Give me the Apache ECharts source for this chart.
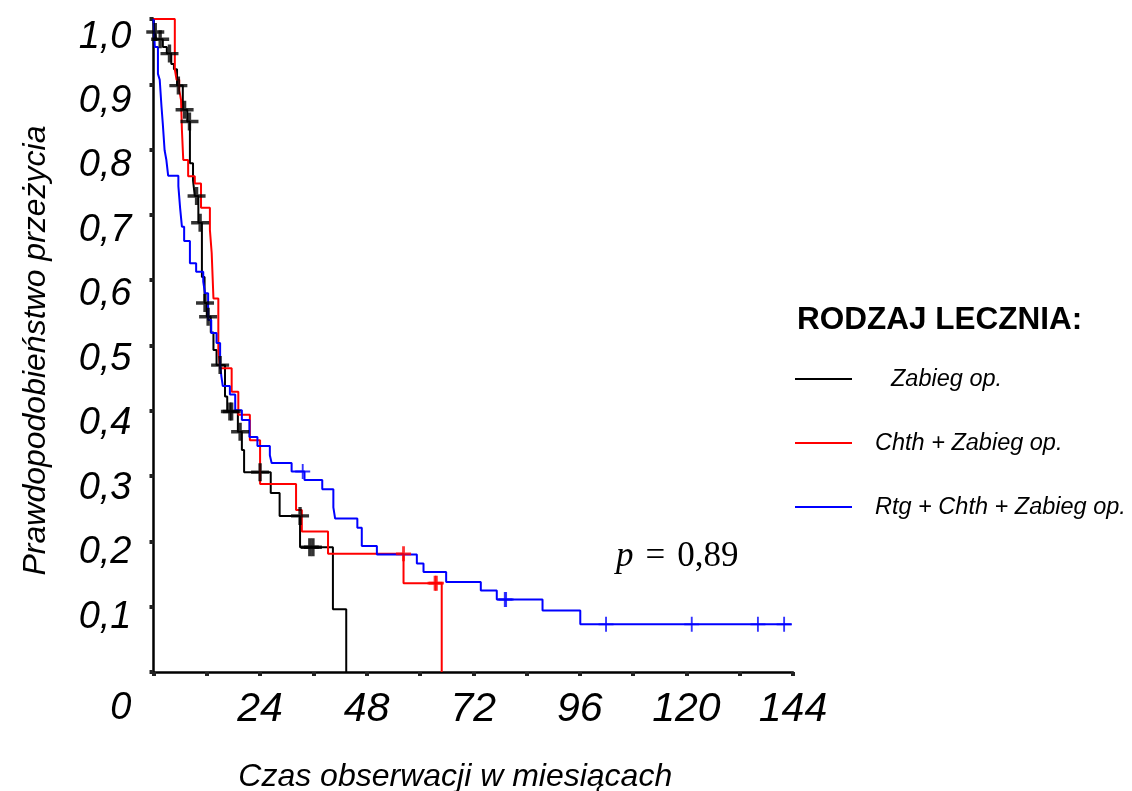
<!DOCTYPE html>
<html>
<head>
<meta charset="utf-8">
<script src="https://cdn.jsdelivr.net/npm/echarts@6/dist/echarts.min.js"></script>
<style>
  html, body { margin: 0; padding: 0; background: #fff; }
  #chart { width: 1132px; height: 791px; }
</style>
</head>
<body>
<div id="chart"></div>
<script>
// Kaplan–Meier survival by treatment type (months of follow-up)
const groupNames = ['Zabieg op.', 'Chth + Zabieg op.', 'Rtg + Chth + Zabieg op.'];

// step points [month, survival after the drop at that month]
const surgerySteps = [
  [0, 1.0], [0.2, 0.980], [0.6, 0.969], [2.1, 0.957], [3.0, 0.947], [4.0, 0.931],
  [4.6, 0.923], [5.3, 0.898], [6.6, 0.861], [7.6, 0.843], [8.2, 0.779], [8.9, 0.753],
  [9.3, 0.729], [10.1, 0.688], [10.9, 0.605], [11.5, 0.565], [12.0, 0.544], [12.9, 0.520],
  [13.5, 0.493], [14.2, 0.470], [16.1, 0.422], [16.6, 0.399], [19.0, 0.368], [19.9, 0.340],
  [20.4, 0.306], [26.4, 0.274], [28.4, 0.239], [33.0, 0.191], [40.4, 0.096], [43.4, 0]
];
const chemoSteps = [
  [0, 1.0], [4.8, 0.923], [5.2, 0.907], [5.8, 0.891], [6.2, 0.876], [6.4, 0.830],
  [6.7, 0.784], [7.8, 0.759], [9.3, 0.748], [10.7, 0.711], [12.7, 0.677], [13.1, 0.642],
  [13.5, 0.572], [14.6, 0.493], [15.0, 0.465], [17.6, 0.429], [19.1, 0.394], [21.7, 0.355],
  [24.0, 0.288], [32.1, 0.248], [33.4, 0.215], [39.3, 0.181], [56.3, 0.136], [64.9, 0]
];
const radioSteps = [
  [0, 1.0], [0.3, 0.957], [1.0, 0.916], [1.4, 0.907], [1.8, 0.866], [2.1, 0.839],
  [2.5, 0.799], [2.9, 0.784], [3.3, 0.760], [5.6, 0.744], [6.0, 0.710], [6.4, 0.682],
  [6.9, 0.660], [8.2, 0.626], [9.6, 0.613], [11.2, 0.598], [11.6, 0.580], [12.3, 0.539],
  [13.0, 0.519], [14.2, 0.504], [15.0, 0.470], [15.3, 0.452], [15.6, 0.438], [17.2, 0.425],
  [18.4, 0.401], [19.9, 0.386], [21.6, 0.360], [23.4, 0.346], [26.2, 0.332], [26.6, 0.320],
  [31.1, 0.307], [34.0, 0.294], [38.0, 0.280], [40.5, 0.252], [40.9, 0.235], [45.9, 0.221],
  [46.9, 0.193], [50.3, 0.180], [59.3, 0.166], [60.8, 0.153], [65.9, 0.138], [73.7, 0.125],
  [77.3, 0.111], [87.6, 0.094], [96.1, 0.073], [143.7, 0.073]
];

// censored observations [month, survival]
const surgeryCensored = [
  [0.4, 0.980], [1.5, 0.969], [3.6, 0.947], [5.6, 0.898], [7.0, 0.861], [8.1, 0.843],
  [9.7, 0.729], [10.5, 0.688], [11.6, 0.565], [12.3, 0.544], [15.0, 0.470], [17.2, 0.399],
  [17.6, 0.399], [19.5, 0.368], [24.0, 0.306], [33.0, 0.239], [35.2, 0.191], [35.9, 0.191]
];
const chemoCensored = [[56.3, 0.181], [63.4, 0.136], [63.7, 0.136]];
const radioCensored = [
  [33.6, 0.307], [79.1, 0.111], [79.4, 0.111], [101.9, 0.073], [121.2, 0.073],
  [136.1, 0.073], [142.0, 0.073]
];

const xTickValues = [0, 12, 24, 36, 48, 60, 72, 84, 96, 108, 120, 132, 144];
const xLabelValues = [24, 48, 72, 96, 120, 144];
const yTickValues = [0, 0.1, 0.2, 0.3, 0.4, 0.5, 0.6, 0.7, 0.8, 0.9, 1.0];
const yLabelValues = [0.1, 0.2, 0.3, 0.4, 0.5, 0.6, 0.7, 0.8, 0.9, 1.0];
const originLabel = [0];

const groupColors = ['#000000', '#ff0000', '#0000ff'];
const FONT = '"Liberation Sans", Arial, sans-serif';
const SERIF = '"Liberation Serif", "Times New Roman", serif';

const plusThick = 'path://M6.5,0h3v6.5h6.5v3h-6.5v6.5h-3v-6.5h-6.5v-3h6.5z';
const plusThin = 'path://M7,0h2v7h7v2h-7v7h-2v-7h-7v-2h7z';

function stepSeries(name, data, color) {
  return {
    name, type: 'line', step: 'end', data, color,
    showSymbol: false, symbol: 'none',
    lineStyle: { color, width: 2 },
    emphasis: { disabled: true }, z: 3
  };
}
function censorSeries(name, data, color, symbol, size) {
  return {
    name: name + ' (cenzurowane)', type: 'scatter', data, symbol, symbolSize: size,
    itemStyle: { color }, emphasis: { disabled: true }, z: 4
  };
}

const labelText = { fontFamily: FONT, fontSize: 38, fontStyle: 'italic', color: '#000' };

const chart = echarts.init(document.getElementById('chart'), null, { renderer: 'canvas' });
chart.setOption({
  animation: false,
  backgroundColor: '#ffffff',
  title: {
    text: 'RODZAJ LECZNIA:', left: 797, top: 304, padding: 0,
    textStyle: { fontFamily: FONT, fontSize: 31.5, fontWeight: 'bold', color: '#000' }
  },
  legend: {
    data: groupNames, orient: 'vertical', left: 795, top: 365, padding: 0,
    icon: 'rect', itemWidth: 57, itemHeight: 2, itemGap: 36,
    selectedMode: false,
    formatter: name => (name === 'Zabieg op.' ? '{w|\u00a0}' : '{g|\u00a0}') + '{t|' + name + '}',
    textStyle: {
      fontFamily: FONT, fontSize: 23.5, fontStyle: 'italic', color: '#000', lineHeight: 28,
      rich: {
        g: { width: 18 },
        w: { width: 34 },
        t: { fontFamily: FONT, fontSize: 23.5, fontStyle: 'italic', color: '#000', lineHeight: 28 }
      }
    }
  },
  grid: { left: 153.5, right: 339, top: 19, bottom: 119, outerBoundsMode: 'none' },
  xAxis: {
    type: 'value', min: 0, max: 144, interval: 12,
    name: 'Czas obserwacji w miesiącach', nameLocation: 'middle', nameGap: 89,
    nameTextStyle: { fontFamily: FONT, fontSize: 32, fontStyle: 'italic', color: '#000', padding: [0, 36, 0, 0] },
    axisLine: { lineStyle: { color: '#000', width: 2.5 } },
    axisTick: { customValues: xTickValues, length: 4, lineStyle: { color: '#222', width: 4 } },
    axisLabel: {
      customValues: xLabelValues, margin: 17,
      fontFamily: FONT, fontSize: 41, fontStyle: 'italic', color: '#000'
    },
    splitLine: { show: false }
  },
  yAxis: [
    {
      type: 'value', min: 0, max: 1, interval: 0.1,
      name: 'Prawdopodobieństwo przeżycia', nameLocation: 'middle', nameGap: 101,
      nameTextStyle: { fontFamily: FONT, fontSize: 32, fontStyle: 'italic', color: '#000', padding: [0, 10, 0, 0] },
      axisLine: { show: true, lineStyle: { color: '#000', width: 2.5 } },
      axisTick: { show: true, customValues: yTickValues, length: 4, lineStyle: { color: '#222', width: 4 } },
      // the origin label sits below the corner of the axes
      axisLabel: {
        customValues: originLabel, margin: 22,
        formatter: () => '{z|0}',
        rich: { z: Object.assign({ padding: [72, 0, 0, 0] }, labelText) }
      },
      splitLine: { show: false }
    },
    {
      // label scale: tick labels sit slightly below their ticks
      type: 'value', min: 0.0146, max: 1.0279, position: 'left',
      axisLine: { show: false }, axisTick: { show: false }, splitLine: { show: false },
      axisLabel: Object.assign({
        customValues: yLabelValues, margin: 22,
        formatter: v => (Math.round(v * 10) / 10).toFixed(1).replace('.', ',')
      }, labelText)
    }
  ],
  graphic: [
    {
      type: 'text', left: 616, top: 539,
      style: {
        text: '{i|p}{e|=}{n|0,89}',
        font: '35px ' + SERIF,
        fill: '#000',
        rich: {
          i: { font: 'italic 35px ' + SERIF, fill: '#000' },
          e: { font: '35px ' + SERIF, fill: '#000', padding: [0, 12, 0, 12] },
          n: { font: '35px ' + SERIF, fill: '#000' }
        }
      }
    }
  ],
  series: [
    stepSeries(groupNames[0], surgerySteps, groupColors[0]),
    stepSeries(groupNames[1], chemoSteps, groupColors[1]),
    stepSeries(groupNames[2], radioSteps, groupColors[2]),
    censorSeries(groupNames[0], surgeryCensored, groupColors[0], plusThick, 18),
    censorSeries(groupNames[1], chemoCensored, groupColors[1], plusThick, 15),
    censorSeries(groupNames[2], radioCensored, groupColors[2], plusThin, 15)
  ]
});
</script>
</body>
</html>
